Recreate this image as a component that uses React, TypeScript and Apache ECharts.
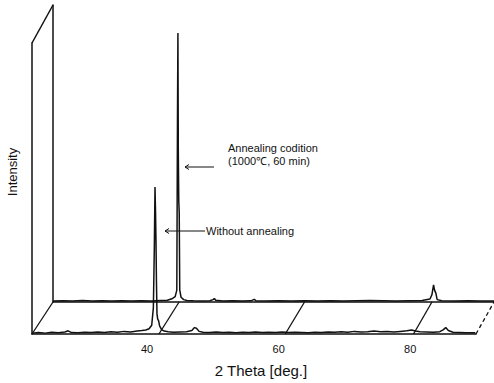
import React, { useEffect, useRef } from "react";
import * as echarts from "echarts";

// 2θ range of both planes
const THETA_MIN = 22.5;
const THETA_MAX = 90;
const I_MAX = 1000;
const xTickLabels = [40, 60, 80];

// Front plane: without annealing
const frontTheta = [
  22.5, 23.5, 24.5, 25.5, 26.5, 27.5, 28.0, 28.5, 29.5, 30.5, 31.5, 32.5, 33.5, 34.5, 35.5, 36.5, 37.5, 38.5,
  39.2, 39.8, 40.3, 40.7, 40.95, 41.1, 41.2, 41.28, 41.35, 41.42, 41.5, 41.6, 41.75, 41.9, 42.2, 42.6, 43.2,
  44, 45, 46, 46.8, 47.2, 47.5, 47.9, 48.5, 49.5, 50.5, 51.5, 52.5, 53.5, 54.5, 55.5, 56.5, 57.5, 58.5, 59.5,
  60.5, 61.5, 62.5, 63.5, 64.5, 65.5, 66.5, 67.5, 68.5, 69.5, 70.5, 71.5, 72.5, 73.5, 74.5, 75.5, 76.5, 77.5,
  78.5, 79.5, 80.2, 80.8, 81.5, 82.5, 83.5, 84.5, 85.0, 85.4, 85.8, 86.5, 87.5, 88.5, 89.9,
];
const frontIntensity = [
  3, 5, 3, 6, 4, 7, 11, 5, 4, 6, 5, 7, 5, 8, 6, 9, 7, 10,
  12, 14, 18, 30, 90, 300, 505, 420, 320, 180, 70, 52, 45, 28, 15, 10, 8,
  6, 7, 8, 12, 22, 20, 9, 6, 5, 7, 5, 6, 4, 6, 5, 7, 5, 6, 5,
  7, 5, 6, 5, 4, 6, 5, 7, 6, 8, 6, 9, 7, 8, 10, 8, 9, 7,
  9, 11, 14, 10, 8, 7, 6, 8, 14, 22, 12, 6, 5, 4, 4,
];

// Back plane: annealed (1000℃, 60 min)
const backTheta = [
  22.5, 24, 25.5, 27, 28.5, 30, 31.5, 33, 34.5, 36, 37.5, 39, 40, 40.8, 41.2, 41.45, 41.55, 41.62, 41.68,
  41.75, 41.82, 41.9, 42.1, 42.5, 43, 44, 45.5, 46.5, 47.0, 47.2, 47.4, 48.5, 50, 51.5, 52.8, 53.3, 53.6,
  55, 57, 59, 61, 63, 65, 67, 69, 71, 73, 75, 77, 79, 80.2, 80.5, 80.75, 80.9, 81.1, 81.3, 82, 84, 86, 88, 90,
];
const backIntensity = [
  3, 4, 3, 5, 3, 4, 3, 4, 3, 4, 3, 5, 6, 12, 18, 40, 600, 906, 500,
  340, 300, 40, 16, 8, 5, 4, 3, 4, 8, 12, 6, 3, 4, 3, 4, 9, 4,
  3, 4, 3, 4, 3, 4, 3, 4, 5, 4, 3, 4, 5, 10, 25, 58, 40, 30, 8, 4, 3, 4, 3, 3,
];

// 2θ positions of the floor lines joining the two planes
const floorLinks = [22.5, 41.8, 61.0, 80.5, 90];

const FONT = '"Liberation Sans", Arial, sans-serif';
const INK = "#111";

export default function App() {
  const ref = useRef<HTMLDivElement>(null);

  useEffect(() => {
    if (!ref.current) return;
    const chart = echarts.init(ref.current, null, { renderer: "svg" });
    const front = frontTheta.map((t, i) => [t, frontIntensity[i]]);
    const back = backTheta.map((t, i) => [t, backIntensity[i]]);

    const hiddenAxisBits = {
      axisTick: { show: false },
      splitLine: { show: false },
    };

    chart.setOption({
      animation: false,
      backgroundColor: "#fff",
      grid: [
        { left: 32, right: 18, top: 43, bottom: 49 },
        { left: 53, right: 0, top: 5, bottom: 81 },
      ],
      xAxis: [
        {
          type: "value",
          gridIndex: 0,
          min: THETA_MIN,
          max: THETA_MAX,
          interval: 2.5,
          axisLine: { show: true, lineStyle: { color: INK, width: 1.5 } },
          axisLabel: {
            show: true,
            color: INK,
            fontSize: 11,
            fontFamily: FONT,
            margin: 9,
            formatter: (v: number) => (xTickLabels.includes(Math.round(v * 10) / 10) ? String(v) : ""),
          },
          ...hiddenAxisBits,
        },
        {
          type: "value",
          gridIndex: 1,
          min: THETA_MIN,
          max: THETA_MAX,
          axisLine: { show: true, lineStyle: { color: INK, width: 1.5 } },
          axisLabel: { show: false },
          ...hiddenAxisBits,
        },
      ],
      yAxis: [
        {
          type: "value",
          gridIndex: 0,
          min: 0,
          max: I_MAX,
          axisLine: { show: true, lineStyle: { color: INK, width: 1.5 } },
          axisLabel: { show: false },
          ...hiddenAxisBits,
        },
        {
          type: "value",
          gridIndex: 1,
          min: 0,
          max: I_MAX,
          axisLine: { show: true, lineStyle: { color: INK, width: 1.5 } },
          axisLabel: { show: false },
          ...hiddenAxisBits,
        },
      ],
      series: [
        {
          name: "Annealing codition (1000℃, 60 min)",
          type: "line",
          xAxisIndex: 1,
          yAxisIndex: 1,
          data: back,
          symbol: "none",
          lineStyle: { color: INK, width: 1.5 },
          z: 2,
        },
        {
          name: "Without annealing",
          type: "line",
          xAxisIndex: 0,
          yAxisIndex: 0,
          data: front,
          symbol: "none",
          lineStyle: { color: INK, width: 1.5 },
          z: 3,
        },
      ],
    });

    const fp = (t: number, v: number) => chart.convertToPixel({ gridIndex: 0 }, [t, v]) as number[];
    const bp = (t: number, v: number) => chart.convertToPixel({ gridIndex: 1 }, [t, v]) as number[];

    const links: any[] = floorLinks.map((t, i) => {
      const a = fp(t, 0);
      const b = bp(t, 0);
      return {
        type: "line",
        shape: { x1: a[0], y1: a[1], x2: b[0], y2: b[1] },
        style: {
          stroke: INK,
          lineWidth: 1.3,
          lineDash: i === floorLinks.length - 1 ? [4, 3] : null,
        },
        z: 10,
      };
    });
    const topA = fp(THETA_MIN, I_MAX);
    const topB = bp(THETA_MIN, I_MAX);
    links.push({
      type: "line",
      shape: { x1: topA[0], y1: topA[1], x2: topB[0], y2: topB[1] },
      style: { stroke: INK, lineWidth: 1.5 },
      z: 10,
    });

    const textStyle = (text: string, size: number) => ({
      text,
      fill: INK,
      fontSize: size,
      fontFamily: FONT,
    });
    const arrow = (x1: number, x2: number, y: number) => [
      { type: "line", shape: { x1, y1: y, x2, y2: y }, style: { stroke: INK, lineWidth: 1 }, z: 10 },
      {
        type: "polyline",
        shape: { points: [[x2 + 4, y - 2.5], [x2, y], [x2 + 4, y + 2.5]] },
        style: { stroke: INK, lineWidth: 1, fill: null },
        z: 10,
      },
    ];

    chart.setOption({
      graphic: [
        ...links,
        ...arrow(214, 185, 167),
        ...arrow(205, 165, 231),
        {
          type: "text",
          x: 228,
          y: 148,
          style: { ...textStyle("Annealing codition", 11), align: "left", verticalAlign: "middle" },
          z: 10,
        },
        {
          type: "text",
          x: 228,
          y: 161,
          style: { ...textStyle("(1000℃, 60 min)", 11), align: "left", verticalAlign: "middle" },
          z: 10,
        },
        {
          type: "text",
          x: 206,
          y: 231,
          style: { ...textStyle("Without annealing", 11), align: "left", verticalAlign: "middle" },
          z: 10,
        },
        {
          type: "text",
          x: 12,
          y: 172,
          rotation: Math.PI / 2,
          style: { ...textStyle("Intensity", 13), align: "center", verticalAlign: "middle" },
          z: 10,
        },
        {
          type: "text",
          x: 261,
          y: 370,
          style: { ...textStyle("2 Theta [deg.]", 15), align: "center", verticalAlign: "middle" },
          z: 10,
        },
      ],
    });

    return () => chart.dispose();
  }, []);

  return (
    <div
      ref={ref}
      style={{ position: "fixed", left: 0, top: 0, width: 494, height: 383, background: "#fff" }}
    />
  );
}
